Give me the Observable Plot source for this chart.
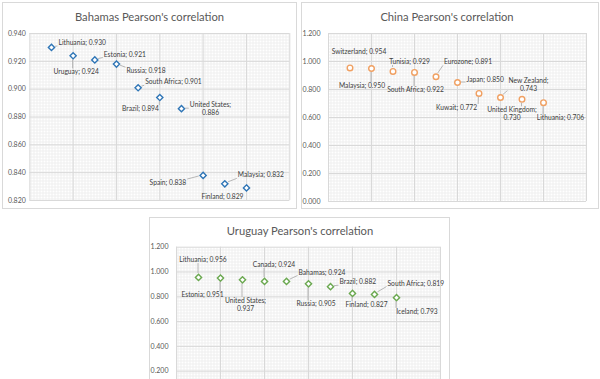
<!DOCTYPE html>
<html><head><meta charset="utf-8">
<script src="https://cdn.jsdelivr.net/npm/d3@7"></script>
<script src="https://cdn.jsdelivr.net/npm/@observablehq/plot@0.6"></script>
<style>
body{margin:0;width:600px;height:379px;overflow:hidden;position:relative;background:#fff;font-family:Lato,sans-serif}
.panel{position:absolute;box-sizing:border-box;border:1px solid #d9d9d9;background:#fff}
.title{position:absolute;font-size:11.2px;color:#595959;white-space:nowrap;transform:translate(-50%,-50%);line-height:1}
.chart{position:absolute}
</style></head><body>
<svg width="0" height="0" style="position:absolute"><defs>
<pattern id="hatch" width="3" height="3" patternUnits="userSpaceOnUse"><rect width="3" height="3" fill="#fff"/><path d="M0 0.5H3M0.5 0V3" stroke="#efefef" stroke-width="1"/></pattern>
</defs></svg>
<div class="panel" style="left:2px;top:2px;width:295px;height:207px"></div>
<div class="panel" style="left:301px;top:2px;width:298px;height:207px"></div>
<div class="panel" style="left:149px;top:217px;width:301px;height:200px"></div>
<div class="title" style="left:149.5px;top:16.5px">Bahamas Pearson's correlation</div>
<div class="title" style="left:447px;top:16.5px">China Pearson's correlation</div>
<div class="title" style="left:300px;top:231px">Uruguay Pearson's correlation</div>
<div id="c1" class="chart" style="left:0px;top:0px"></div>
<div id="c2" class="chart" style="left:300px;top:0px"></div>
<div id="c3" class="chart" style="left:150px;top:210px"></div>
<script>
// ---- data ----
const bahamasCountries = ["Lithuania","Uruguay","Estonia","Russia","South Africa","Brazil","United States","Spain","Malaysia","Finland"];
const bahamasValues = [0.930,0.924,0.921,0.918,0.901,0.894,0.886,0.838,0.832,0.829];
const bahamasTicks = [0.82,0.84,0.86,0.88,0.90,0.92,0.94];

const chinaCountries = ["Switzerland","Malaysia","Tunisia","South Africa","Eurozone","Japan","Kuwait","New Zealand","United Kingdom","Lithuania"];
const chinaValues = [0.954,0.950,0.929,0.922,0.891,0.850,0.772,0.743,0.730,0.706];
const chinaTicks = [0,0.2,0.4,0.6,0.8,1.0,1.2];

const uruguayCountries = ["Lithuania","Estonia","United States","Canada","Bahamas","Russia","Brazil","Finland","South Africa","Iceland"];
const uruguayValues = [0.956,0.951,0.937,0.924,0.924,0.905,0.882,0.827,0.819,0.793];
const uruguayTicks = [0,0.2,0.4,0.6,0.8,1.0,1.2];

const xGrid = [0,2,4,6,8,10,12];

// ---- label layout: [dx, dy, anchor, wrap, leader] ----
const bahamasLayout = [
  [7,-5,"start",0,1],[3,16,"middle",0,1],[9,-6,"start",0,1],[10,6.5,"start",0,1],[7,-6,"start",0,1],
  [-1,11,"end",0,1],[29,0,"middle",1,1],[-17,7,"end",0,1],[13,-9,"start",0,1],[-24,8,"middle",0,0]
];
const chinaLayout = [
  [9,-17,"middle",0,0],[-9.5,17,"middle",0,1],[16.5,-10,"middle",0,1],[1,17,"middle",0,1],[8,-15,"start",0,1],
  [9,-3,"start",0,1],[-22.5,14,"middle",0,1],[28,-13.5,"middle",1,1],[-10,14.5,"middle",1,1],[17,15,"middle",0,1]
];
const uruguayLayout = [
  [4.5,-18,"middle",0,1],[-18,16.5,"middle",0,1],[3,24.5,"middle",1,1],[9.5,-17,"middle",0,1],[12,-9.5,"start",0,1],
  [7.5,20,"middle",0,1],[9,-5,"start",0,1],[14,11,"middle",0,1],[13,-11.5,"start",0,1],[20.5,13.6,"middle",0,1]
];

function makeChart(el, cfg) {
  const data = cfg.countries.map((c, i) => ({i: i + 1, c, v: cfg.values[i]}));
  const fmt = d3.format(".3f");
  const yRange = cfg.yRange || [cfg.height - cfg.mb, cfg.mt];
  // only label the ticks that fall inside the drawn area (the rest is cropped in the original)
  const pos = d3.scaleLinear(cfg.domain, yRange);
  const labelTicks = cfg.ticks.filter(t => pos(t) <= cfg.height - 4);
  const marks = [
    Plot.frame({fill: "url(#hatch)", stroke: "none"}),
    Plot.gridX(xGrid, {stroke: "#d9d9d9", strokeOpacity: 1}),
    Plot.gridY(labelTicks, {stroke: "#d9d9d9", strokeOpacity: 1}),
    Plot.axisY(labelTicks, {tickSize: 0, tickPadding: cfg.pad, tickFormat: fmt, fill: "#595959", label: null, fontSize: 7}),
    Plot.dot(data, {x: "i", y: "v", symbol: cfg.symbol, r: 2.8, stroke: cfg.color, fill: "#fff", strokeWidth: 1.4}),
    ...cfg.layout.map((L, k) => Plot.text([data[k]], {
      x: "i", y: "v", dx: L[0], dy: L[1], textAnchor: L[2], lineHeight: 1.2,
      text: d => d.c + ";" + (L[3] ? "\n" : " ") + fmt(d.v),
      fill: "#404040", fontSize: 6.7
    }))
  ];
  const plot = Plot.plot({
    width: cfg.width, height: cfg.height,
    marginLeft: cfg.ml, marginRight: cfg.mr, marginTop: cfg.mt, marginBottom: cfg.mb,
    x: {domain: [0, 12], axis: null},
    y: {domain: cfg.domain, range: yRange},
    style: {fontFamily: "Lato, sans-serif", fontSize: "7px", background: "transparent", overflow: "hidden"},
    marks
  });
  el.appendChild(plot);
  // leader lines from each point to its label
  const sx = plot.scale("x"), sy = plot.scale("y");
  const box = plot.getBoundingClientRect();
  const texts = plot.querySelectorAll('g[aria-label="text"] text');
  const g = d3.select(plot).append("g").attr("stroke", "#a6a6a6").attr("stroke-width", 0.8);
  cfg.layout.forEach((L, k) => {
    if (!L[4]) return;
    const d = data[k];
    const px = sx.apply(d.i), py = sy.apply(d.v);
    const r = texts[k].getBoundingClientRect();
    const left = r.left - box.left - 1, right = r.right - box.left + 1;
    const top = r.top - box.top + 1, bottom = r.bottom - box.top - 1;
    const tx = Math.max(left, Math.min(right, px));
    const ty = Math.max(top, Math.min(bottom, py));
    const dist = Math.hypot(tx - px, ty - py);
    if (dist < 5) return;
    const sxp = px + (tx - px) / dist * 4, syp = py + (ty - py) / dist * 4;
    g.append("line").attr("x1", sxp).attr("y1", syp).attr("x2", tx).attr("y2", ty);
  });
}

makeChart(document.getElementById("c1"), {
  countries: bahamasCountries, values: bahamasValues, ticks: bahamasTicks, domain: [0.82, 0.94],
  layout: bahamasLayout, color: "#2e75b6", symbol: "diamond2", pad: 4,
  width: 300, height: 210, ml: 29.3, mr: 10.7, mt: 33, mb: 10
});
makeChart(document.getElementById("c2"), {
  countries: chinaCountries, values: chinaValues, ticks: chinaTicks, domain: [0, 1.2],
  layout: chinaLayout, color: "#f0a062", symbol: "circle", pad: 8,
  width: 300, height: 210, ml: 28, mr: 14, mt: 33, mb: 9
});
makeChart(document.getElementById("c3"), {
  countries: uruguayCountries, values: uruguayValues, ticks: uruguayTicks, domain: [0, 1.2],
  layout: uruguayLayout, color: "#6aa84f", symbol: "diamond2", pad: 8,
  width: 300, height: 169, ml: 26, mr: 10, mt: 36.7, mb: 0, yRange: [185.5, 36.7]
});
</script>
</body></html>
